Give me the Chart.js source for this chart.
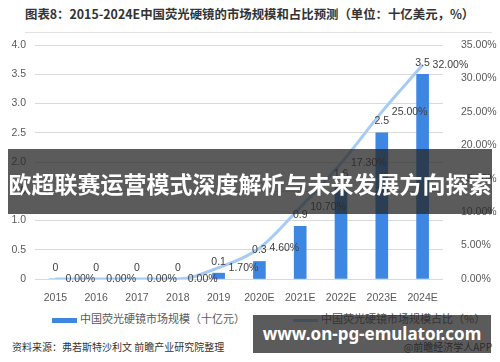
<!DOCTYPE html>
<html>
<head>
<meta charset="utf-8">
<script src="https://cdn.jsdelivr.net/npm/chart.js@4.4.1/dist/chart.umd.min.js"></script>
<style>
  body { margin: 0; width: 500px; height: 362px; background: #fff; overflow: hidden; position: relative; font-family: "Noto Sans CJK SC", sans-serif; }
  #title { position: absolute; left: 25px; top: 5px; font-size: 12.4px; font-weight: bold; color: #333; white-space: nowrap; }
  #rule { position: absolute; left: 25px; top: 32px; width: 467px; height: 1px; background: #e2e2e2; }
  #wrap { position: absolute; left: 0; top: 0; width: 500px; height: 305px; }
  #legend { position: absolute; top: 310px; left: 52px; font-size: 11px; color: #595959; white-space: nowrap; }
  #legend span.sw { display: inline-block; vertical-align: middle; width: 25px; margin-right: 3px; }
  #source { position: absolute; left: 12px; top: 339px; font-size: 10px; color: #333; white-space: nowrap; }
  #app { position: absolute; right: 8px; top: 339px; font-size: 10px; color: #333; white-space: nowrap; }
  .banner { position: absolute; background: rgba(40,40,40,0.76); color: #fff; font-weight: bold; text-align: center; white-space: nowrap; }
  #b1 { left: 8px; top: 149px; width: 484px; height: 65px; line-height: 68px; font-size: 23px; }
  #b2 { left: 253px; top: 315px; width: 238px; height: 38px; line-height: 38px; font-size: 17px; font-family: "Noto Sans", sans-serif; }
</style>
</head>
<body>
<div id="title">图表8：2015-2024E中国荧光硬镜的市场规模和占比预测（单位：十亿美元，%）</div>
<div id="rule"></div>
<div id="wrap"><canvas id="grafico" width="500" height="305"></canvas></div>
<div id="legend"><span class="sw" style="height:5px;background:#3d87e3"></span>中国荧光硬镜市场规模（十亿元）<span style="display:inline-block;width:48px"></span><span class="sw" style="height:3px;background:#a8cdf5"></span>中国荧光硬镜市场规模占比（%）</div>
<div id="source">资料来源：弗若斯特沙利文 前瞻产业研究院整理</div>
<div id="app">@前瞻经济学人APP</div>
<div class="banner" id="b1">欧超联赛运营模式深度解析与未来发展方向探索</div>
<div class="banner" id="b2">www.on-pg-emulator.com</div>

<script>
// DADOS
var anos = ["2015", "2016", "2017", "2018", "2019", "2020E", "2021E", "2022E", "2023E", "2024E"];
var mercado = [0, 0, 0, 0, 0.1, 0.3, 0.9, 1.6, 2.5, 3.5];
var participacao = [0, 0, 0, 0, 1.7, 4.6, 10.7, 17.3, 25.0, 32.0];

var fonte = '"Liberation Sans", Arial, sans-serif';

// rótulos de valor em cima das barras e ao lado da linha
var rotulos = {
    id: 'rotulos',
    afterDatasetsDraw: function (chart) {
        var ctx = chart.ctx;
        ctx.save();
        ctx.font = '10.5px ' + fonte;
        ctx.fillStyle = '#404040';

        var barras = chart.getDatasetMeta(0).data;
        ctx.textAlign = 'center';
        ctx.textBaseline = 'bottom';
        barras.forEach(function (bar, i) {
            ctx.fillText(String(mercado[i]), bar.x, bar.y - 6);
        });

        var pontos = chart.getDatasetMeta(1).data;
        ctx.textAlign = 'left';
        ctx.textBaseline = 'middle';
        pontos.forEach(function (p, i) {
            ctx.fillText(participacao[i].toFixed(2) + '%', p.x + 10, p.y);
        });
        ctx.restore();
    }
};

var grafico = document.getElementById('grafico').getContext('2d');

var chart = new Chart(grafico, {
    type: 'bar',
    data: {
        labels: anos,
        datasets: [
            {
                label: "中国荧光硬镜市场规模（十亿元）",
                data: mercado,
                backgroundColor: '#3d87e3',
                barThickness: 12,
                yAxisID: 'y',
                order: 2
            },
            {
                type: 'line',
                label: "中国荧光硬镜市场规模占比（%）",
                data: participacao,
                borderColor: '#a6cbf4',
                borderWidth: 3,
                cubicInterpolationMode: 'monotone',
                pointRadius: 0,
                fill: false,
                yAxisID: 'y1',
                order: 1
            }
        ]
    },
    options: {
        responsive: false,
        animation: false,
        maintainAspectRatio: false,
        layout: { padding: { top: 45, left: 0, right: 0, bottom: 0 } },
        plugins: { legend: { display: false }, tooltip: { enabled: false } },
        scales: {
            x: {
                grid: { display: false },
                border: { display: false },
                ticks: { color: '#595959', font: { size: 10.5, family: fonte }, maxRotation: 0, autoSkip: false, padding: 5 },
                afterFit: function (s) { s.height = 26; }
            },
            y: {
                position: 'left',
                min: 0, max: 4,
                ticks: { stepSize: 0.5, color: '#595959', font: { size: 10.5, family: fonte }, padding: 9 },
                grid: { color: '#d9d9d9', drawTicks: false },
                border: { display: false },
                afterFit: function (s) { s.width = 35; }
            },
            y1: {
                position: 'right',
                min: 0, max: 35,
                ticks: {
                    stepSize: 5, color: '#595959', padding: 10,
                    font: { size: 10.5, family: fonte },
                    callback: function (v) { return v.toFixed(2) + '%'; }
                },
                grid: { display: false },
                border: { display: false },
                afterFit: function (s) { s.width = 57; }
            }
        }
    },
    plugins: [rotulos]
});
</script>
</body>
</html>
